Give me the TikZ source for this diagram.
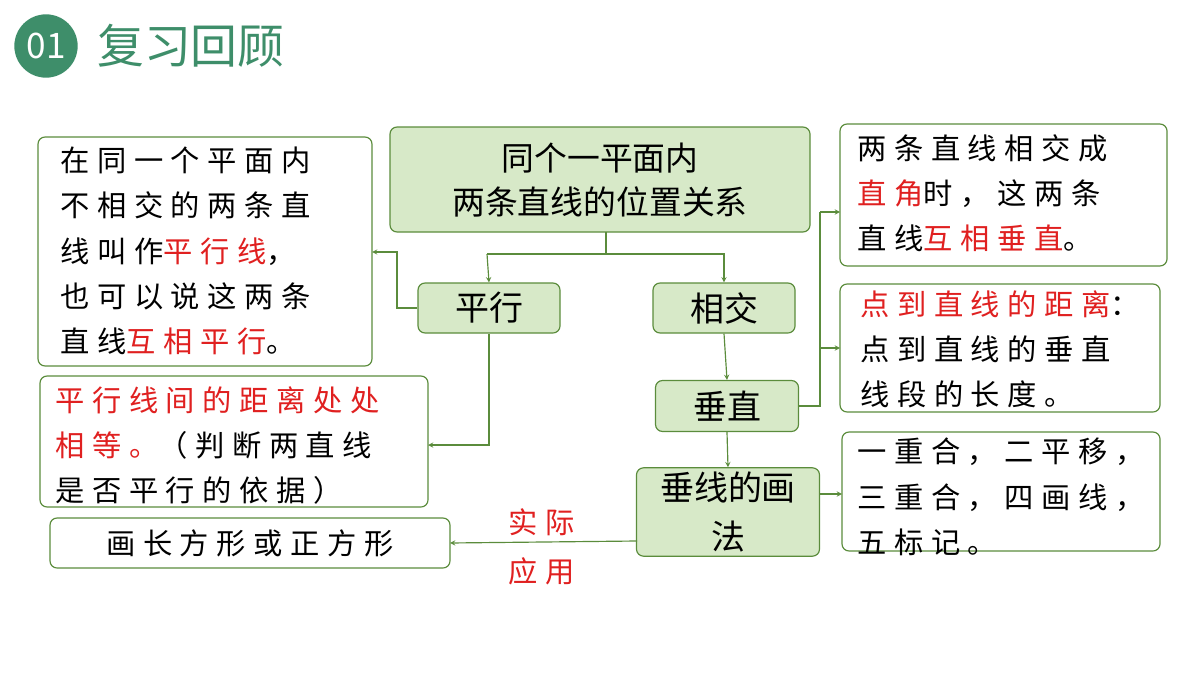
\documentclass[tikz,border=0pt]{standalone}
\usepackage{fontspec}
\setmainfont{Noto Sans CJK SC}
\newfontfamily\boxfont[LetterSpace=26]{Noto Sans CJK SC}
\usetikzlibrary{positioning}
\definecolor{deepgreen}{HTML}{3E8E6A}
\definecolor{linegreen}{HTML}{5B8C3C}
\definecolor{leaf}{HTML}{D7E9C8}
\definecolor{redtext}{HTML}{E02020}
\newcommand{\hl}[1]{\textcolor{redtext}{#1}}
\begin{document}
\begin{tikzpicture}[x=0.03cm, y=-0.03cm, >=stealth,
  key/.style={draw=linegreen, fill=leaf, rounded corners=6pt, line width=1pt,
    font=\fontsize{29}{34}\selectfont, align=center},
  note/.style={draw=linegreen, fill=white, rounded corners=6pt, line width=1pt},
  notetext/.style={anchor=north west, align=left, inner sep=0pt,
    font=\boxfont\fontsize{25}{38.5}\selectfont},
  link/.style={draw=linegreen, line width=1pt}]
\useasboundingbox (0,0) rectangle (1200,675);

% heading
\node [circle, fill=deepgreen, minimum size=1.9cm, text=white,
  font=\fontsize{30}{32}\selectfont] (num) at (46,46) {01};
\node [anchor=west, text=deepgreen, font=\fontsize{40}{44}\selectfont] (head) at (93,46) {复习回顾};

% green boxes
\draw [key] (390,127) rectangle (810,232);
\node [font=\fontsize{28}{38}\selectfont, align=center] (top) at (600,180) {同个一平面内\\两条直线的位置关系};
\coordinate (topS) at (606,232);
\node [key, minimum width=4.26cm, minimum height=1.5cm] (para) at (489,308) {平行};
\node [key, minimum width=4.26cm, minimum height=1.5cm] (cross) at (724,308) {相交};
\node [key, minimum width=4.29cm, minimum height=1.53cm] (perp) at (727,406) {垂直};
\node [key, minimum width=5.49cm, minimum height=2.64cm, font=\fontsize{29}{42}\selectfont] (draw) at (728,512) {垂线的画\\法};

% white boxes
\draw [note] (38,137) rectangle (372,366);
\coordinate (leftA) at (372,252);
\node [notetext] (ta) at (60,147) {在同一个平面内\\不相交的两条直\\线叫作\hl{平行线}，\\也可以说这两条\\直线\hl{互相平行}。};
\draw [note] (40,376) rectangle (428,507);
\coordinate (leftB) at (428,445);
\node [notetext] (tb) at (55,386) {\hl{平行线间的距离处处}\\\hl{相等。}（判断两直线\\是否平行的依据）};
\draw [note] (50,518) rectangle (450,568);
\coordinate (leftC) at (450,543);
\node [font=\boxfont\fontsize{25}{30}\selectfont] (tc) at (250,543) {画长方形或正方形};
\draw [note] (840,124) rectangle (1167,266);
\coordinate (rightA) at (840,212);
\node [notetext] (td) at (857,134) {两条直线相交成\\\hl{直角}时，这两条\\直线\hl{互相垂直}。};
\draw [note] (840,284) rectangle (1160,412);
\coordinate (rightB) at (840,348);
\node [notetext] (te) at (860,290) {\hl{点到直线的距离}：\\点到直线的垂直\\线段的长度。};
\draw [note] (842,432) rectangle (1160,551);
\coordinate (rightC) at (842,494);
\node [notetext] (tf) at (857,438) {一重合，二平移，\\三重合，四画线，\\五标记。};

% connectors
\draw [link] (topS) -- (606,254) -| (487,254);
\draw [link, ->] (487,254) -- (para.north);
\draw [link, ->] (606,254) -| (cross.north);
\draw [link, ->] (para.west) -| (397,252) -- (leftA);
\draw [link, ->] (para.south) |- (leftB);
\draw [link, ->] (cross.south) -- (perp.north);
\draw [link, ->] (perp.south) -- (draw.north);
\draw [link] (perp.east) -| (820,212);
\draw [link, ->] (820,212) -- (rightA);
\draw [link, ->] (820,348) -- (rightB);
\draw [link, ->] (draw.east) ++(0,-18) -- (rightC);
\draw [link, ->] (637,541) -- (leftC);
\node [text=redtext, font=\boxfont\fontsize{25}{30}\selectfont] (use1) at (542,522) {实际};
\node [text=redtext, font=\boxfont\fontsize{25}{30}\selectfont] (use2) at (542,571) {应用};
\end{tikzpicture}
\end{document}
